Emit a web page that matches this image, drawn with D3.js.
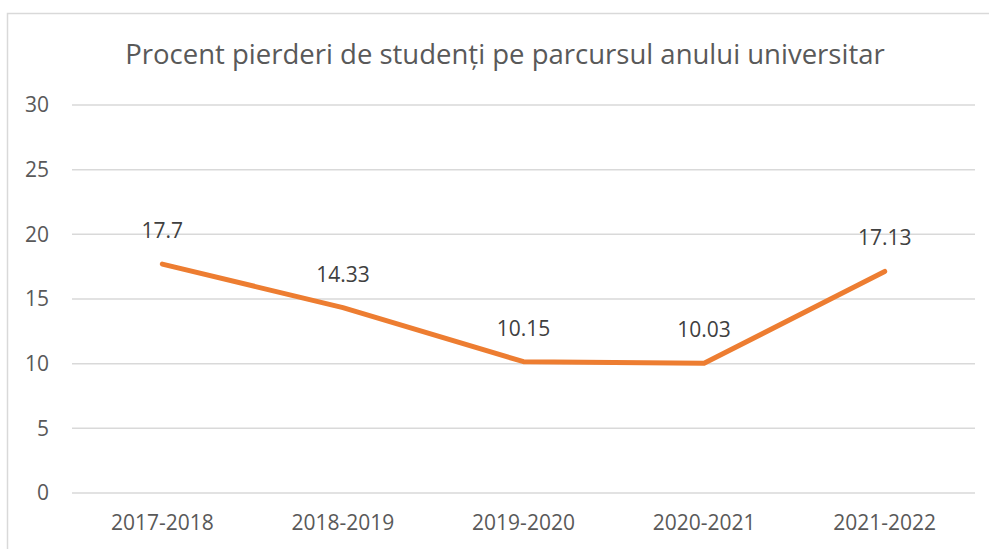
<!DOCTYPE html>
<html>
<head>
<meta charset="utf-8">
<script src="https://cdn.jsdelivr.net/npm/d3@7"></script>
<style>
  body { margin: 0; background: #fff; }
  text { font-family: "Open Sans", "Noto Sans", sans-serif; fill: #595959; }
</style>
</head>
<body>
<div id="chart-area"></div>
<script>
// data
var years = ['2017-2018', '2018-2019', '2019-2020', '2020-2021', '2021-2022'];
var losses = [17.7, 14.33, 10.15, 10.03, 17.13];
var yTicks = [0, 5, 10, 15, 20, 25, 30];

var W = 989, H = 549;
var margin = { top: 105, right: 14, bottom: 56, left: 72 };
var width = W - margin.left - margin.right;
var height = H - margin.top - margin.bottom;

var svg = d3.select('#chart-area')
  .append('svg')
    .attr('width', W)
    .attr('height', H);

// chart frame
svg.append('rect')
  .attr('x', 7.5)
  .attr('y', 13.5)
  .attr('width', W)
  .attr('height', H)
  .attr('fill', 'none')
  .attr('stroke', '#d9d9d9')
  .attr('stroke-width', 1.5);

// title
svg.append('text')
  .attr('x', 505)
  .attr('y', 64)
  .attr('text-anchor', 'middle')
  .attr('font-size', '27.5px')
  .text('Procent pierderi de studenți pe parcursul anului universitar');

var g = svg.append('g')
  .attr('transform', 'translate(' + margin.left + ',' + margin.top + ')');

var x = d3.scaleBand()
  .domain(years)
  .range([0, width]);

var y = d3.scaleLinear()
  .domain([0, 30])
  .range([height, 0]);

// gridlines
g.selectAll('.grid').data(yTicks)
  .enter().append('line')
    .attr('class', 'grid')
    .attr('x1', 0)
    .attr('x2', width)
    .attr('y1', d => y(d))
    .attr('y2', d => y(d))
    .attr('stroke', '#d9d9d9')
    .attr('stroke-width', 1.5);

// Y axis
var yAxis = g.append('g')
  .call(d3.axisLeft(y).tickValues(yTicks).tickSize(0).tickPadding(23));
yAxis.select('.domain').remove();
yAxis.selectAll('text')
  .attr('font-size', '21px')
  .style('font-family', '"Open Sans", "Noto Sans", sans-serif')
  .attr('fill', '#595959');

// X axis
var xAxis = g.append('g')
  .attr('transform', 'translate(0,' + height + ')')
  .call(d3.axisBottom(x).tickSize(0).tickPadding(22));
xAxis.select('.domain').remove();
xAxis.selectAll('text')
  .attr('font-size', '21px')
  .style('font-family', '"Open Sans", "Noto Sans", sans-serif')
  .attr('fill', '#595959');

// line
var line = d3.line()
  .x((d, i) => x(years[i]) + x.bandwidth() / 2)
  .y(d => y(d));

g.append('path')
  .datum(losses)
  .attr('d', line)
  .attr('fill', 'none')
  .attr('stroke', '#ED7D31')
  .attr('stroke-width', 5)
  .attr('stroke-linecap', 'round')
  .attr('stroke-linejoin', 'round');

// data labels
g.selectAll('.label').data(losses)
  .enter().append('text')
    .attr('class', 'label')
    .attr('x', (d, i) => x(years[i]) + x.bandwidth() / 2)
    .attr('y', d => y(d) - 26)
    .attr('text-anchor', 'middle')
    .attr('font-size', '21px')
    .style('fill', '#404040')
    .text(d => d);
</script>
</body>
</html>
